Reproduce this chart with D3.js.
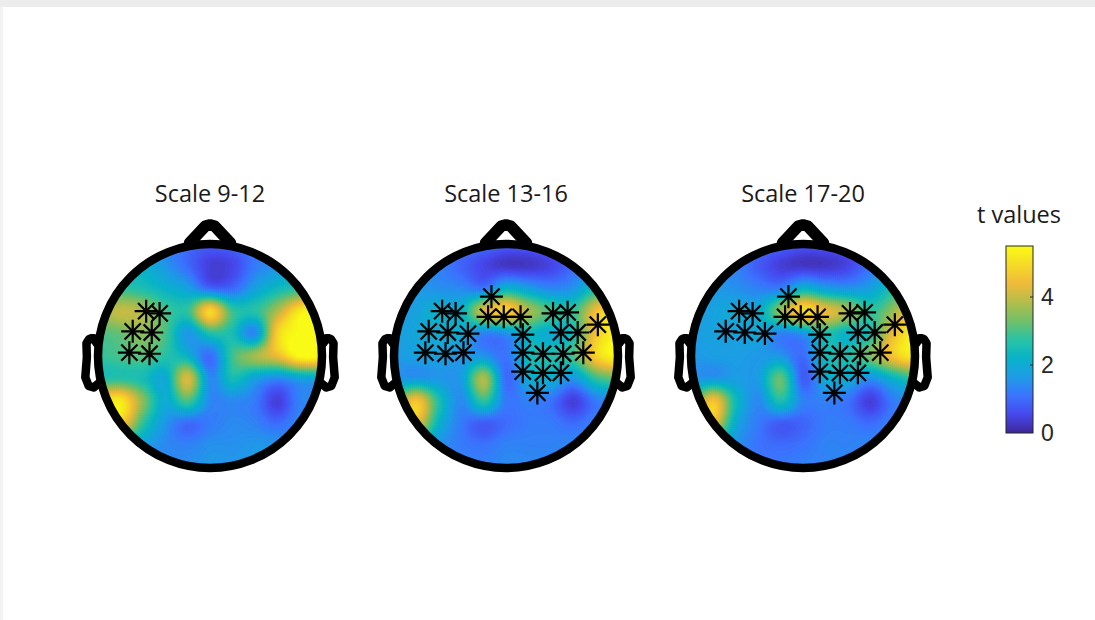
<!DOCTYPE html>
<html>
<head>
<meta charset="utf-8">
<script src="https://cdn.jsdelivr.net/npm/d3@7"></script>
<style>
  html, body { margin: 0; padding: 0; background: #ffffff; }
  svg { display: block; }
</style>
</head>
<body>
<svg id="chart" width="1095" height="620"></svg>
<script>
// ---- data ---------------------------------------------------------------
const titles = ["Scale 9-12", "Scale 13-16", "Scale 17-20"];

// sampling positions of the t-value grids, in head units (radius 1 = head outline)
const gridAxis = [-1, -0.8, -0.6, -0.4, -0.2, 0, 0.2, 0.4, 0.6, 0.8, 1];

// t values on gridAxis x gridAxis; rows run from the nose (front) to the back,
// columns from the left ear to the right ear
const tScale9_12 = [
  [2.0, 1.8, 1.6, 1.3, 1.0, 0.8, 0.9, 1.2, 1.5, 2.0, 2.4],
  [2.4, 2.2, 2.1, 1.6, 1.0, 0.4, 0.5, 1.2, 1.6, 2.3, 2.8],
  [2.8, 2.8, 2.6, 2.2, 1.8, 1.0, 1.0, 1.8, 2.4, 2.8, 3.4],
  [3.6, 4.0, 3.8, 3.0, 2.8, 4.9, 2.9, 2.7, 3.8, 5.2, 5.5],
  [3.0, 3.2, 3.5, 3.0, 1.6, 2.6, 2.5, 1.4, 4.8, 5.5, 5.5],
  [2.8, 3.0, 3.1, 2.7, 2.2, 1.0, 2.9, 3.7, 4.4, 5.5, 5.5],
  [2.6, 2.7, 2.5, 2.0, 4.2, 1.4, 2.5, 1.8, 1.4, 1.8, 1.9],
  [4.8, 5.2, 3.5, 2.0, 3.0, 1.4, 1.4, 1.2, 0.4, 1.3, 1.4],
  [4.8, 4.8, 2.8, 1.6, 1.0, 1.2, 1.4, 1.3, 1.0, 1.4, 1.5],
  [2.6, 2.4, 1.8, 1.4, 1.3, 1.5, 1.5, 1.6, 1.6, 1.6, 1.6],
  [2.0, 1.8, 1.6, 1.5, 1.5, 1.6, 1.6, 1.6, 1.6, 1.6, 1.6]
];
const tScale13_16 = [
  [1.6, 1.5, 1.4, 1.2, 1.0, 0.8, 0.8, 0.9, 1.1, 1.6, 2.0],
  [1.6, 1.5, 1.3, 0.9, 0.5, 0.3, 0.3, 0.5, 1.0, 1.6, 2.2],
  [1.6, 1.6, 1.5, 1.4, 1.2, 2.2, 1.8, 1.4, 1.6, 2.6, 3.4],
  [1.6, 1.8, 2.2, 2.2, 4.2, 4.8, 3.8, 3.0, 2.8, 4.5, 5.2],
  [1.7, 1.9, 2.0, 2.0, 1.3, 1.5, 2.3, 2.0, 2.5, 4.6, 5.5],
  [1.6, 1.8, 1.8, 1.6, 1.6, 1.1, 2.4, 2.6, 3.0, 4.8, 5.5],
  [1.6, 1.6, 1.6, 1.7, 3.8, 1.0, 2.0, 2.1, 1.6, 2.8, 3.2],
  [3.0, 4.6, 2.6, 1.4, 2.8, 1.2, 1.3, 1.1, 0.4, 1.2, 1.5],
  [4.4, 4.4, 2.2, 1.2, 0.8, 1.0, 1.2, 1.2, 1.0, 1.3, 1.4],
  [2.2, 2.0, 1.5, 1.2, 1.1, 1.3, 1.3, 1.3, 1.4, 1.4, 1.4],
  [1.6, 1.5, 1.4, 1.3, 1.3, 1.4, 1.4, 1.4, 1.4, 1.4, 1.4]
];
const tScale17_20 = [
  [1.5, 1.4, 1.3, 1.1, 0.9, 0.7, 0.7, 0.8, 1.1, 1.6, 2.0],
  [1.6, 1.5, 1.3, 0.8, 0.4, 0.3, 0.3, 0.5, 1.1, 1.6, 2.2],
  [1.6, 1.6, 1.5, 1.3, 1.3, 2.2, 1.8, 1.6, 1.8, 2.6, 3.2],
  [1.6, 1.8, 2.0, 2.0, 3.6, 5.0, 4.4, 3.8, 2.8, 3.6, 4.8],
  [1.7, 1.8, 1.8, 1.9, 1.3, 1.6, 2.6, 2.2, 2.6, 4.4, 5.4],
  [1.6, 1.7, 1.7, 1.6, 1.6, 1.0, 2.4, 2.6, 3.4, 4.6, 5.3],
  [1.6, 1.6, 1.7, 1.7, 3.2, 0.8, 2.0, 2.0, 1.5, 2.2, 2.8],
  [2.8, 4.6, 2.4, 1.4, 2.6, 1.3, 1.3, 1.1, 0.4, 1.2, 1.5],
  [4.4, 4.4, 2.0, 1.2, 0.8, 0.9, 1.2, 1.2, 1.0, 1.3, 1.4],
  [2.0, 1.8, 1.5, 1.1, 1.0, 1.1, 1.3, 1.3, 1.4, 1.4, 1.4],
  [1.5, 1.4, 1.3, 1.2, 1.2, 1.3, 1.3, 1.3, 1.4, 1.4, 1.4]
];

// electrode positions in head units: x left -> right, y back -> front
const electrodeX = [-0.57, -0.45, -0.13, -0.69, -0.52, -0.34, -0.72, -0.54, -0.38,
                    -0.16, -0.02, 0.13, 0.42, 0.55, 0.15, 0.49, 0.64, 0.82,
                    0.15, 0.33, 0.51, 0.69, 0.15, 0.33, 0.49, 0.28];
const electrodeY = [0.40, 0.38, 0.53, 0.22, 0.21, 0.20, 0.03, 0.02, 0.03,
                    0.35, 0.35, 0.35, 0.38, 0.39, 0.19, 0.21, 0.21, 0.28,
                    0.03, 0.02, 0.02, 0.03, -0.14, -0.15, -0.15, -0.33];

// significant electrodes (indices into the electrode arrays)
const sig9_12 = [0, 1, 3, 4, 6, 7];
const sig13_16 = [0, 1, 2, 3, 4, 5, 6, 7, 8, 9, 10, 11, 12, 13, 14, 15, 16, 17, 18, 19, 20, 21, 22, 23, 24, 25];
const sig17_20 = [0, 1, 2, 3, 4, 5, 9, 10, 11, 12, 13, 14, 15, 16, 17, 18, 19, 20, 21, 22, 23, 24, 25];

// head outline in topoplot units (head radius 0.5)
const noseX = [0.09, 0.02, 0, -0.02, -0.09];
const noseY = [0.4954, 0.57, 0.575, 0.57, 0.4954];
const earX = [0.497, 0.510, 0.518, 0.5299, 0.5419, 0.54, 0.547, 0.532, 0.510, 0.489];
const earY = [0.0555, 0.0775, 0.0783, 0.0746, 0.0555, -0.0055, -0.0932, -0.1313, -0.1384, -0.1199];

const colorTicks = [0, 2, 4];
const tDomain = [0, 5.5];
const colorTitle = "t values";

// parula colour map
const parulaStops = ["#3e2699", "#4749ee", "#3b74fe", "#1e9ce6", "#09b3c9",
                     "#29c3a5", "#73bf69", "#b4bd4b", "#f0ba3a", "#f6da28", "#f9fb14"];

// ---- drawing ------------------------------------------------------------
const svg = d3.select("#chart");

// card edge of the page
svg.append("rect").attr("x", 0).attr("y", 0).attr("width", 1095).attr("height", 620).attr("fill", "#ffffff");
svg.append("rect").attr("x", 0).attr("y", 0).attr("width", 1095).attr("height", 7).attr("fill", "#ececec");
svg.append("rect").attr("x", 0).attr("y", 7).attr("width", 3).attr("height", 613).attr("fill", "#f3f3f3");

const color = d3.scaleLinear()
  .domain(parulaStops.map((_, i) => tDomain[0] + i * (tDomain[1] - tDomain[0]) / (parulaStops.length - 1)))
  .range(parulaStops)
  .interpolate(d3.interpolateRgb)
  .clamp(true);

const heads = [
  { title: titles[0], grid: tScale9_12, sig: sig9_12, cx: 210 },
  { title: titles[1], grid: tScale13_16, sig: sig13_16, cx: 506 },
  { title: titles[2], grid: tScale17_20, sig: sig17_20, cx: 803 }
];
const cy = 356, R = 112, outlineScale = 228;

// bicubic (Catmull-Rom) resampling of a coarse grid onto N x N points
const N = 111;
function resample(grid) {
  const n = grid.length;
  const get = (r, c) => grid[Math.max(0, Math.min(n - 1, r))][Math.max(0, Math.min(n - 1, c))];
  const cr = (p0, p1, p2, p3, t) =>
    p1 + 0.5 * t * (p2 - p0 + t * (2 * p0 - 5 * p1 + 4 * p2 - p3 + t * (3 * (p1 - p2) + p3 - p0)));
  const out = new Float64Array(N * N);
  for (let j = 0; j < N; j++) {
    const gyv = j * (n - 1) / (N - 1);
    const r = Math.min(n - 2, Math.floor(gyv)), ty = gyv - r;
    for (let i = 0; i < N; i++) {
      const gxv = i * (n - 1) / (N - 1);
      const c = Math.min(n - 2, Math.floor(gxv)), tx = gxv - c;
      const col = [-1, 0, 1, 2].map(k => cr(get(r + k, c - 1), get(r + k, c), get(r + k, c + 1), get(r + k, c + 2), tx));
      const v = cr(col[0], col[1], col[2], col[3], ty);
      out[j * N + i] = Math.max(tDomain[0], Math.min(tDomain[1], v));
    }
  }
  return out;
}

const thresholds = d3.range(tDomain[0], tDomain[1], 0.05);
const defs = svg.append("defs");

heads.forEach((h, hi) => {
  const x = d3.scaleLinear().domain([gridAxis[0], gridAxis[gridAxis.length - 1]]).range([h.cx - R, h.cx + R]);
  const y = d3.scaleLinear().domain([gridAxis[0], gridAxis[gridAxis.length - 1]]).range([cy + R, cy - R]);
  const ox = d3.scaleLinear().domain([0, 1]).range([h.cx, h.cx + outlineScale]);
  const oy = d3.scaleLinear().domain([0, 1]).range([cy, cy - outlineScale]);

  // contour grid coordinates -> screen
  const gx = d3.scaleLinear().domain([0.5, N - 0.5]).range([x(-1), x(1)]);
  const gy = d3.scaleLinear().domain([0.5, N - 0.5]).range([y(1), y(-1)]);
  const path = d3.geoPath(d3.geoTransform({
    point(px, py) { this.stream.point(gx(px), gy(py)); }
  }));

  defs.append("clipPath").attr("id", "scalp" + hi)
    .append("circle").attr("cx", x(0)).attr("cy", y(0)).attr("r", R);

  const g = svg.append("g");

  const field = resample(h.grid);
  const bands = d3.contours().size([N, N]).thresholds(thresholds)(field);
  g.append("g").attr("clip-path", `url(#scalp${hi})`)
    .selectAll("path").data(bands).join("path")
    .attr("d", path)
    .attr("fill", d => color(d.value + 0.025))
    .attr("stroke", d => color(d.value + 0.025))
    .attr("stroke-width", 0.4);

  // nose and ears
  const line = d3.line().x(d => ox(d[0])).y(d => oy(d[1]));
  const outline = g.append("g").attr("fill", "none").attr("stroke", "#000")
    .attr("stroke-linejoin", "round").attr("stroke-linecap", "round");
  outline.append("path").attr("d", line(noseX.map((v, i) => [v, noseY[i]]))).attr("stroke-width", 11.5);
  outline.append("path").attr("d", line(earX.map((v, i) => [-v, earY[i]]))).attr("stroke-width", 8.5);
  outline.append("path").attr("d", line(earX.map((v, i) => [v, earY[i]]))).attr("stroke-width", 8.5);

  // head outline
  g.append("circle").attr("cx", x(0)).attr("cy", y(0)).attr("r", R)
    .attr("fill", "none").attr("stroke", "#000").attr("stroke-width", 8.5);

  // significant electrodes as asterisks
  const arm = 11.5, d45 = arm * Math.SQRT1_2;
  g.append("g").selectAll("path").data(h.sig).join("path")
    .attr("d", k => {
      const px = x(electrodeX[k]), py = y(electrodeY[k]);
      return `M${px - arm},${py}L${px + arm},${py}` +
             `M${px},${py - arm}L${px},${py + arm}` +
             `M${px - d45},${py - d45}L${px + d45},${py + d45}` +
             `M${px - d45},${py + d45}L${px + d45},${py - d45}`;
    })
    .attr("fill", "none").attr("stroke", "#000").attr("stroke-width", 2.2);

  // title
  g.append("text").attr("x", x(0)).attr("y", 202)
    .attr("text-anchor", "middle")
    .attr("font-family", "'Open Sans', sans-serif").attr("font-size", 23.5)
    .attr("fill", "#1a1a1a").text(h.title);
});

// ---- colour bar -----------------------------------------------------------
const cbX = 1006, cbW = 27;
const cb = d3.scaleLinear().domain(tDomain).range([433, 246]);
const grad = defs.append("linearGradient").attr("id", "cbGrad")
  .attr("x1", 0).attr("y1", 1).attr("x2", 0).attr("y2", 0);
d3.range(0, 1.0001, 0.02).forEach(t => {
  grad.append("stop").attr("offset", t).attr("stop-color", color(tDomain[0] + t * (tDomain[1] - tDomain[0])));
});
svg.append("rect").attr("x", cbX).attr("y", cb(tDomain[1])).attr("width", cbW)
  .attr("height", cb(tDomain[0]) - cb(tDomain[1]))
  .attr("fill", "url(#cbGrad)").attr("stroke", "#262626").attr("stroke-width", 1);

const cbAxis = svg.append("g");
cbAxis.selectAll("line").data(colorTicks.filter(v => v > tDomain[0])).join("line")
  .attr("x1", cbX + cbW - 3).attr("x2", cbX + cbW)
  .attr("y1", d => cb(d)).attr("y2", d => cb(d))
  .attr("stroke", "#262626").attr("stroke-width", 1);
cbAxis.selectAll("text").data(colorTicks).join("text")
  .attr("x", 1041).attr("y", d => cb(d))
  .attr("dy", "0.36em")
  .attr("font-family", "'Liberation Sans', Arial, sans-serif").attr("font-size", 23)
  .attr("fill", "#262626").text(d => d);

svg.append("text").attr("x", 1019).attr("y", 223)
  .attr("text-anchor", "middle")
  .attr("font-family", "'Open Sans', sans-serif").attr("font-size", 23.5)
  .attr("fill", "#1a1a1a").text(colorTitle);
</script>
</body>
</html>
